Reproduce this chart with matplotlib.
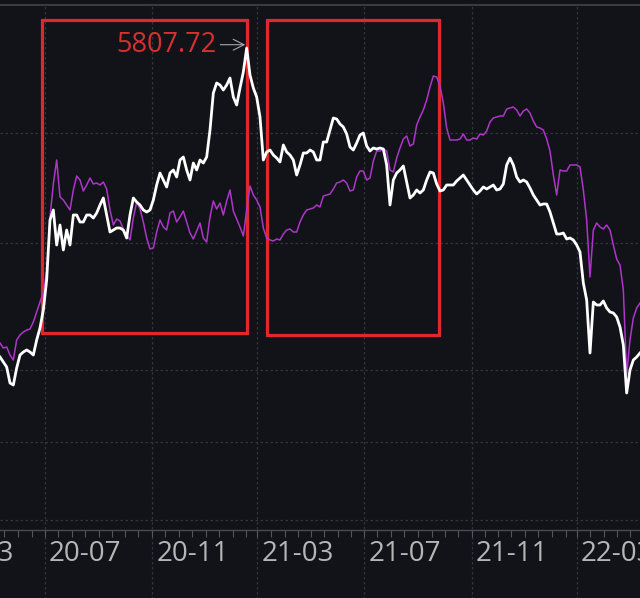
import numpy as np
import pandas as pd
import matplotlib
matplotlib.use("Agg")
import matplotlib.pyplot as plt
import matplotlib.dates as mdates
from matplotlib.patches import Rectangle
from matplotlib.transforms import ScaledTranslation

plt.rcParams['font.family'] = ['Open Sans', 'DejaVu Sans']

# ---------------- data ----------------
start_date = '2020-05-11'
end_date = '2022-05-12'

white_values = [
    3954, 3924, 3894, 3798, 3786, 3888, 3966, 3984, 3996, 3984,
    3966, 4056, 4128, 4236, 4416, 4776, 4836, 4626, 4746, 4596,
    4716, 4626, 4806, 4806, 4764, 4764, 4806, 4806, 4788, 4818,
    4866, 4908, 4806, 4704, 4716, 4728, 4728, 4716, 4668, 4806,
    4908, 4884, 4866, 4836, 4824, 4836, 4896, 4986, 5058, 5016,
    4974, 5058, 5076, 5034, 5136, 5154, 5076, 5016, 5118, 5076,
    5136, 5118, 5154, 5316, 5538, 5598, 5586, 5556, 5586, 5628,
    5514, 5466, 5568, 5664, 5807.72, 5646, 5568, 5514, 5394, 5136,
    5184, 5196, 5166, 5148, 5124, 5226, 5184, 5166, 5136, 5046,
    5106, 5178, 5178, 5196, 5184, 5136, 5136, 5244, 5244, 5316,
    5388, 5382, 5352, 5334, 5292, 5214, 5196, 5238, 5286, 5298,
    5220, 5190, 5208, 5202, 5208, 5202, 5106, 4866, 5016, 5058,
    5076, 5100, 5004, 4908, 4926, 4956, 4938, 4956, 5016, 5064,
    5058, 4992, 4950, 4956, 4986, 4986, 4986, 5010, 5028, 5046,
    5016, 4986, 4956, 4932, 4950, 4974, 4962, 4974, 4986, 4956,
    4962, 4992, 5106, 5148, 5106, 5034, 5004, 5016, 5004, 4968,
    4926, 4896, 4866, 4872, 4872, 4824, 4758, 4692, 4692, 4698,
    4662, 4668, 4656, 4626, 4584, 4398, 4296, 3978, 4284, 4266,
    4266, 4290, 4248, 4224, 4218, 4194, 4134, 4026, 3738, 3876,
    3936, 3954, 3978,
]

purple_values = [
    4038, 4008, 4014, 3966, 3936, 4056, 4086, 4104, 4116, 4122,
    4164, 4224, 4284, 4344, 4464, 4794, 4992, 5136, 4914, 4896,
    4866, 4836, 4956, 5040, 5016, 4950, 4986, 5028, 4992, 4998,
    4986, 5004, 4962, 4836, 4746, 4782, 4770, 4722, 4686, 4656,
    4788, 4884, 4842, 4764, 4668, 4602, 4608, 4704, 4776, 4734,
    4716, 4818, 4830, 4764, 4794, 4830, 4764, 4698, 4662, 4710,
    4758, 4668, 4644, 4794, 4890, 4842, 4878, 4806, 4890, 4956,
    4830, 4782, 4734, 4680, 4836, 4980, 4926, 4896, 4854, 4728,
    4668, 4656, 4650, 4662, 4656, 4692, 4716, 4722, 4704, 4704,
    4764, 4806, 4836, 4842, 4848, 4866, 4854, 4920, 4926, 4932,
    4962, 4998, 5004, 5016, 4998, 4950, 4956, 5034, 5070, 5070,
    5016, 5028, 5130, 5190, 5190, 5202, 5190, 5076, 5064, 5148,
    5208, 5262, 5280, 5220, 5232, 5346, 5394, 5436, 5496, 5574,
    5640, 5634, 5580, 5478, 5328, 5256, 5256, 5256, 5262, 5292,
    5256, 5256, 5268, 5262, 5292, 5286, 5310, 5364, 5388, 5394,
    5400, 5400, 5442, 5448, 5454, 5436, 5400, 5430, 5442, 5418,
    5370, 5334, 5328, 5316, 5262, 5190, 5046, 4926, 5076, 5070,
    5070, 5106, 5106, 5106, 5094, 4956, 4776, 4434, 4716, 4758,
    4734, 4722, 4746, 4716, 4626, 4542, 4506, 4356, 3846, 4056,
    4188, 4248, 4278,
]

tick_months = ['2020-03-01', '2020-07-01', '2020-11-01', '2021-03-01',
               '2021-07-01', '2021-11-01', '2022-03-01']
tick_labels = ['20-03', '20-07', '20-11', '21-03', '21-07', '21-11', '22-03']
grid_levels = [5298, 4638, 3876, 3444, 2976]

box1 = ('2020-06-28', '2021-02-17', 4098, 5976)
box2 = ('2021-03-12', '2021-09-24', 4086, 5976)
y_limits = (2916, 6066)

# ---------------- figure ----------------
dates = pd.date_range(start_date, end_date, periods=len(white_values))
BG = '#121219'
LABEL_COLOR = '#b6b6b6'
LABEL_SIZE = 20
fig = plt.figure(figsize=(6.4, 5.98), dpi=100, facecolor=BG)
ax = fig.add_axes([0, (598 - 530) / 598, 1, 525 / 598], facecolor=BG)

ax.plot(dates, purple_values, color='#ad36c8', lw=1.1, zorder=3)
ax.plot(dates, white_values, color='#ffffff', lw=2.0, zorder=4)

for (x0, x1, y0, y1) in (box1, box2):
    d0, d1 = mdates.date2num(pd.Timestamp(x0)), mdates.date2num(pd.Timestamp(x1))
    ax.add_patch(Rectangle((d0, y0), d1 - d0, y1 - y0, fill=False,
                           edgecolor='#e0282a', lw=2.3, zorder=2.5))

# peak annotation
peak_i = int(np.argmax(white_values))
ax.annotate(f'{white_values[peak_i]:.2f}', xy=(dates[peak_i], white_values[peak_i] + 20),
            xytext=(-22, 0), textcoords='offset points', ha='right', va='center',
            color='#d8302e', fontsize=19.5,
            arrowprops=dict(arrowstyle='->', color='#a8a8a8', lw=0.8,
                            shrinkA=1, shrinkB=1), zorder=6)

# grid
ax.set_yticks(grid_levels)
ax.yaxis.grid(True, color='#34343e', ls=(0, (2, 2)), lw=0.9)
ax.tick_params(axis='y', left=False, labelleft=False)
for t in tick_months:
    ax.axvline(pd.Timestamp(t), ymin=-0.14, ymax=1.0, color='#34343e',
               ls=(0, (2, 2)), lw=0.9, clip_on=False, zorder=0.5)

# x ticks
ax.set_xticks([pd.Timestamp(t) for t in tick_months])
ax.set_xticklabels(tick_labels)
ax.xaxis.set_minor_locator(mdates.DayLocator(bymonthday=[1, 16]))
ax.tick_params(axis='x', which='both', direction='out', length=5, width=0.8,
               color='#55555c', labelcolor=LABEL_COLOR, labelsize=LABEL_SIZE, pad=2.5)
offset = ScaledTranslation(4 / 100, 0, fig.dpi_scale_trans)
for lab in ax.xaxis.get_majorticklabels():
    lab.set_horizontalalignment('left')
    lab.set_transform(lab.get_transform() + offset)

# limits set after the ticks so the view is not widened
ax.set_xlim(pd.Timestamp(start_date), pd.Timestamp(end_date))
ax.set_ylim(*y_limits)

# the first month label sits left of the view and is only partly visible
ax.annotate(tick_labels[0], xy=(pd.Timestamp(tick_months[0]), 0),
            xycoords=('data', 'axes fraction'), xytext=(2.9, -7.5),
            textcoords='offset points', ha='left', va='top',
            color=LABEL_COLOR, fontsize=LABEL_SIZE, annotation_clip=False)

for side in ('left', 'right'):
    ax.spines[side].set_visible(False)
ax.spines['top'].set_color('#3a3a42')
ax.spines['top'].set_linewidth(1.5)
ax.spines['bottom'].set_color('#4a4a52')
ax.spines['bottom'].set_linewidth(1.0)

fig.savefig('out.png', dpi=100, facecolor=BG)
